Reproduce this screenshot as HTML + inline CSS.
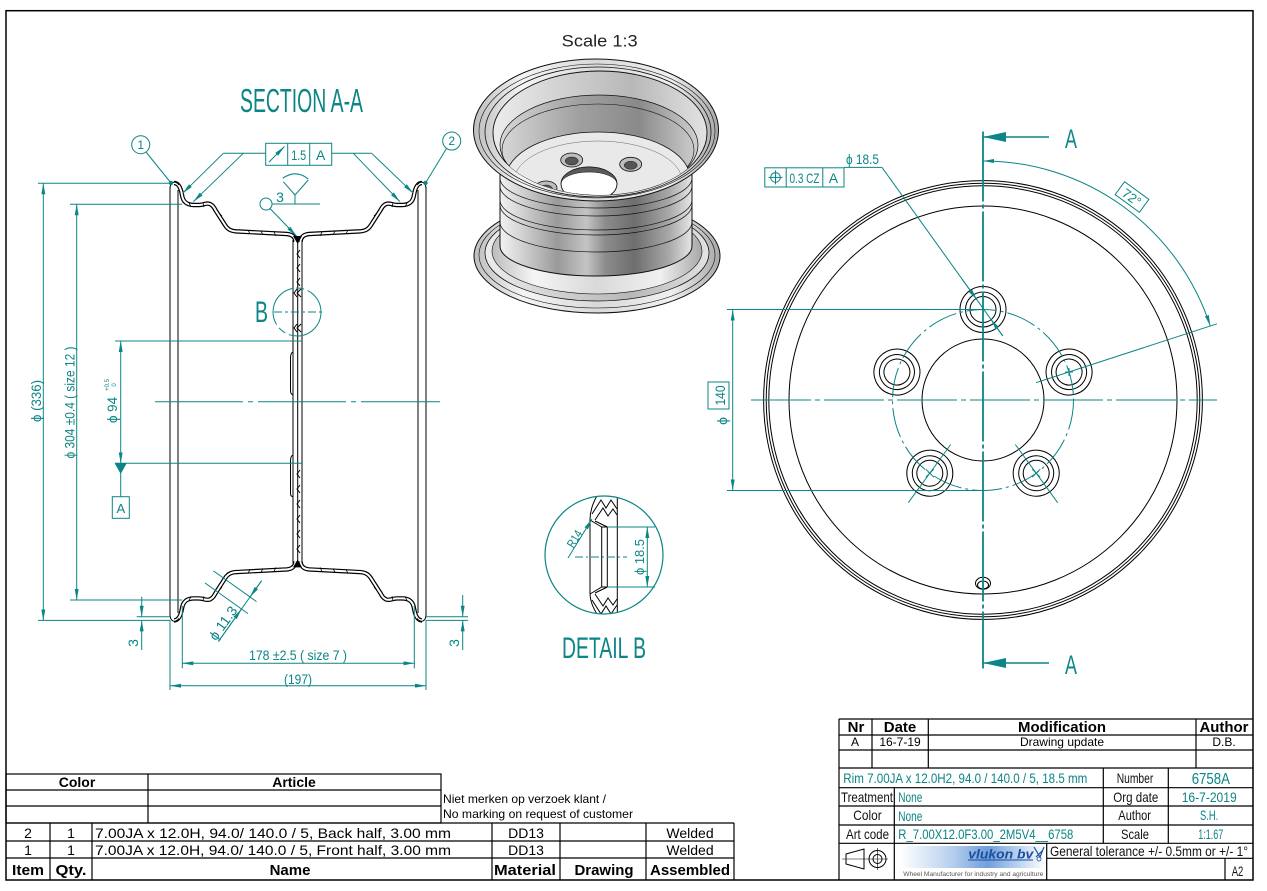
<!DOCTYPE html>
<html><head><meta charset="utf-8"><style>
html,body{margin:0;padding:0;background:#fff;}
svg{display:block;}
</style></head><body>
<svg width="1267" height="891" viewBox="0 0 1267 891" xmlns="http://www.w3.org/2000/svg" xmlns:xlink="http://www.w3.org/1999/xlink" font-family="'Liberation Sans Narrow','Liberation Sans',sans-serif">
<defs>
<marker id="a" viewBox="0 0 11 4" refX="11" refY="2" markerWidth="11" markerHeight="4" markerUnits="userSpaceOnUse" orient="auto-start-reverse"><path d="M0,0L11,2L0,4z" fill="#0b8585"/></marker>
<linearGradient id="gb" x1="0" x2="1"><stop offset="0" stop-color="#f2f2f2"/><stop offset=".1" stop-color="#d6d6d6"/><stop offset=".3" stop-color="#9a9a9a"/><stop offset=".45" stop-color="#c4c4c4"/><stop offset=".55" stop-color="#8c8c8c"/><stop offset=".7" stop-color="#6e6e6e"/><stop offset=".88" stop-color="#a8a8a8"/><stop offset="1" stop-color="#e6e6e6"/></linearGradient>
<linearGradient id="gf" x1="0" x2="1"><stop offset="0" stop-color="#bdbdbd"/><stop offset=".2" stop-color="#f5f5f5"/><stop offset=".5" stop-color="#d9d9d9"/><stop offset=".8" stop-color="#f0f0f0"/><stop offset="1" stop-color="#a8a8a8"/></linearGradient>
<linearGradient id="gi" x1="0" x2="1"><stop offset="0" stop-color="#ececec"/><stop offset=".35" stop-color="#cfcfcf"/><stop offset=".65" stop-color="#b8b8b8"/><stop offset="1" stop-color="#e2e2e2"/></linearGradient>
<linearGradient id="gw" x1="0" x2="1"><stop offset="0" stop-color="#d8d8d8"/><stop offset=".4" stop-color="#a0a0a0"/><stop offset=".7" stop-color="#8a8a8a"/><stop offset="1" stop-color="#cfcfcf"/></linearGradient>
<linearGradient id="gl" x1="0" x2="1"><stop offset="0" stop-color="#ffffff"/><stop offset=".35" stop-color="#9fc0e8"/><stop offset=".6" stop-color="#3f7fcf"/><stop offset="1" stop-color="#ffffff"/></linearGradient>
<clipPath id="cin"><ellipse cx="600" cy="133" rx="107" ry="62"/></clipPath>
<clipPath id="cdb"><circle cx="604" cy="555" r="59"/></clipPath>
<g id="q">
 <path d="M174,183 C179,183 181,189 182,195 C183,202 187,205 194,205 L199,205 C204,205 206,202.5 210,204 C213,205.5 214,207.5 216,211 L225,225 C228,230 232,231.5 239,231.5 L287,234 C292,234.5 295.4,237 295.4,242" fill="none" stroke="#000" stroke-width="4.4"/>
 <path d="M174,183 C179,183 181,189 182,195 C183,202 187,205 194,205 L199,205 C204,205 206,202.5 210,204 C213,205.5 214,207.5 216,211 L225,225 C228,230 232,231.5 239,231.5 L287,234 C292,234.5 295.4,237 295.4,242" fill="none" stroke="#fff" stroke-width="2"/>
 <path d="M170,189 C170,182 175,180 179,185" fill="none" stroke="#000" stroke-width="1"/>
 <path d="M189,203 l2,4 M248,230 l2,4 M261,231 l2,4 M274,232 l2,4 M219,213 l3,3 M203,203 l1,4" stroke="#000" stroke-width=".8"/>
</g>
</defs>

<!-- frame -->
<rect x="6" y="10.7" width="1247" height="869.3" fill="none" stroke="#000" stroke-width="1.5"/>

<!-- ===== SECTION A-A ===== -->
<text x="240" y="112" font-size="33" fill="#0b8585" textLength="123" lengthAdjust="spacingAndGlyphs">SECTION A-A</text>

<g>
<use xlink:href="#q"/>
<use xlink:href="#q" transform="translate(596,0) scale(-1,1)"/>
<use xlink:href="#q" transform="translate(0,803.4) scale(1,-1)"/>
<use xlink:href="#q" transform="translate(596,803.4) scale(-1,-1)"/>
</g>
<g stroke="#000" stroke-width="1" fill="none">
<line x1="170" y1="187" x2="170" y2="616"/>
<line x1="178" y1="190" x2="178" y2="613"/>
<line x1="426" y1="187" x2="426" y2="616"/>
<line x1="418" y1="190" x2="418" y2="613"/>
<line x1="293" y1="240" x2="293" y2="563.4"/>
<line x1="297.7" y1="243" x2="297.7" y2="560.4"/>
<line x1="302" y1="240" x2="302" y2="563.4"/>
<path d="M293,352 C290.5,353 290.5,356 290.5,358 L290.5,389 C290.5,392 290.5,394 293,395"/>
<path d="M293,455 C290.5,456 290.5,459 290.5,461 L290.5,492 C290.5,495 290.5,496 293,497"/>
<path d="M301,289 l-4,4 l4,4 M297,289 l-3,4 l3,4 M301,324 l-4,4 l4,4 M297,324 l-3,4 l3,4"/>
<path d="M300,250 l-3,4 l3,4 M300,264 l-3,4 l3,4 M300,278 l-3,4 l3,4"/>
<path d="M300,470 l-3,4 l3,4 M300,485 l-3,4 l3,4 M300,500 l-3,4 l3,4 M300,515 l-3,4 l3,4 M300,530 l-3,4 l3,4 M300,545 l-3,4 l3,4"/>
</g>
<polygon points="293,236 302,236 297.7,244" fill="#000"/>
<polygon points="293,567.4 302,567.4 297.7,559.4" fill="#000"/>

<!-- centre line -->
<line x1="155" y1="401.7" x2="440" y2="401.7" stroke="#0b8585" stroke-width="1" stroke-dasharray="88,5,5,5"/>

<g stroke="#0b8585" stroke-width="1" fill="none">
<line x1="38" y1="183.3" x2="170" y2="183.3"/>
<line x1="38" y1="620.4" x2="170" y2="620.4"/>
<line x1="43.3" y1="183.3" x2="43.3" y2="620.4" marker-start="url(#a)" marker-end="url(#a)"/>
<line x1="70" y1="204.3" x2="182" y2="204.3"/>
<line x1="70" y1="600" x2="182" y2="600"/>
<line x1="76.7" y1="204.3" x2="76.7" y2="600" marker-start="url(#a)" marker-end="url(#a)"/>
<line x1="115" y1="341" x2="302" y2="341"/>
<line x1="115" y1="463.3" x2="302" y2="463.3"/>
<line x1="120.7" y1="341" x2="120.7" y2="463.3" marker-start="url(#a)" marker-end="url(#a)"/>
<line x1="120.7" y1="463.3" x2="120.7" y2="496.7"/>
<rect x="112.3" y="496.7" width="17" height="21.6"/>
<line x1="136.7" y1="616.7" x2="170" y2="616.7"/>
<line x1="141.7" y1="596.7" x2="141.7" y2="616.7" marker-end="url(#a)"/>
<line x1="141.7" y1="650" x2="141.7" y2="620.4" marker-end="url(#a)"/>
<line x1="426" y1="616.7" x2="468" y2="616.7"/>
<line x1="426" y1="620.4" x2="468" y2="620.4"/>
<line x1="462.7" y1="595" x2="462.7" y2="616.7" marker-end="url(#a)"/>
<line x1="462.7" y1="650" x2="462.7" y2="620.4" marker-end="url(#a)"/>
<line x1="182.3" y1="606" x2="182.3" y2="668.3"/>
<line x1="414.3" y1="606" x2="414.3" y2="668.3"/>
<line x1="182.3" y1="663.3" x2="414.3" y2="663.3" marker-start="url(#a)" marker-end="url(#a)"/>
<line x1="170" y1="620.4" x2="170" y2="690"/>
<line x1="426" y1="620.4" x2="426" y2="690"/>
<line x1="170" y1="685.7" x2="426" y2="685.7" marker-start="url(#a)" marker-end="url(#a)"/>
<line x1="213.4" y1="570.9" x2="256.5" y2="601.6"/>
<line x1="204.9" y1="582.9" x2="248" y2="613.6"/>
<line x1="261.6" y1="580.7" x2="218.3" y2="641.6"/>
<line x1="261.6" y1="580.7" x2="250" y2="597" marker-end="url(#a)"/>
<line x1="218.3" y1="641.6" x2="241.5" y2="609" marker-end="url(#a)"/>
<circle cx="140.7" cy="144.7" r="9"/>
<line x1="146" y1="152" x2="171" y2="183"/>
<circle cx="451.7" cy="141" r="9"/>
<line x1="446.5" y1="148.5" x2="425.5" y2="183"/>
<rect x="265.7" y="143.3" width="66" height="22"/>
<line x1="287.7" y1="143.3" x2="287.7" y2="165.3"/>
<line x1="309.7" y1="143.3" x2="309.7" y2="165.3"/>
<line x1="269" y1="162" x2="284.5" y2="146.5" marker-end="url(#a)"/>
<line x1="223.3" y1="153.3" x2="265.7" y2="153.3"/>
<line x1="223.3" y1="153.3" x2="182.7" y2="193.3" marker-end="url(#a)"/>
<line x1="243.3" y1="153.3" x2="193.3" y2="201.7" marker-end="url(#a)"/>
<line x1="331.7" y1="153.3" x2="371.7" y2="153.3"/>
<line x1="353.3" y1="153.3" x2="400" y2="201.7" marker-end="url(#a)"/>
<line x1="371.7" y1="153.3" x2="413.3" y2="193.3" marker-end="url(#a)"/>
<line x1="272" y1="204" x2="320" y2="204"/>
<circle cx="266" cy="204" r="6"/>
<line x1="270" y1="208.5" x2="296.5" y2="236" marker-end="url(#a)"/>
<path d="M295,204 L295,195 L283.3,181.7 M295,195 L308.3,180"/>
<path d="M282.7,178.3 Q296,169 308.3,179"/>
<circle cx="297" cy="312" r="24" stroke-dasharray="46,4,8,4"/>
<line x1="274" y1="312" x2="322" y2="312" stroke-dasharray="8,3,3,3"/>
</g>
<circle cx="171" cy="183" r="2.2" fill="#0b8585"/>
<circle cx="425.5" cy="183" r="2.2" fill="#0b8585"/>
<polygon points="114.7,463.3 126.7,463.3 120.7,474" fill="#0b8585"/>

<g fill="#0b8585">
<text x="140.7" y="149" font-size="12" text-anchor="middle">1</text>
<text x="451.7" y="145" font-size="12" text-anchor="middle">2</text>
<text x="298.7" y="160" font-size="14" text-anchor="middle" textLength="15" lengthAdjust="spacingAndGlyphs">1.5</text>
<text x="320.7" y="160" font-size="14" text-anchor="middle">A</text>
<text x="280" y="202" font-size="14" text-anchor="middle">3</text>
<text x="120.8" y="513" font-size="13" text-anchor="middle">A</text>
<text x="255" y="322" font-size="30" textLength="13" lengthAdjust="spacingAndGlyphs">B</text>
<text transform="translate(41,401) rotate(-90)" font-size="14" text-anchor="middle" textLength="42" lengthAdjust="spacingAndGlyphs">ϕ (336)</text>
<text transform="translate(74.5,402.5) rotate(-90)" font-size="14" text-anchor="middle" textLength="112" lengthAdjust="spacingAndGlyphs">ϕ 304  ±0.4 ( size 12 )</text>
<text transform="translate(117,410) rotate(-90)" font-size="14" text-anchor="middle" textLength="26" lengthAdjust="spacingAndGlyphs">ϕ 94</text>
<text transform="translate(109,385) rotate(-90)" font-size="6" text-anchor="middle">+0.5</text>
<text transform="translate(116,385) rotate(-90)" font-size="6" text-anchor="middle">0</text>
<text transform="translate(138,643) rotate(-90)" font-size="14" text-anchor="middle">3</text>
<text transform="translate(459,643) rotate(-90)" font-size="14" text-anchor="middle">3</text>
<text x="298" y="660" font-size="14" text-anchor="middle" textLength="98" lengthAdjust="spacingAndGlyphs">178  ±2.5  ( size 7 )</text>
<text x="298" y="684" font-size="14" text-anchor="middle" textLength="28" lengthAdjust="spacingAndGlyphs">(197)</text>
<text transform="translate(227,626) rotate(-54.5)" font-size="14" text-anchor="middle" textLength="38" lengthAdjust="spacingAndGlyphs">ϕ 11.3</text>
</g>

<!-- ===== 3D VIEW ===== -->
<text x="561.7" y="46.7" font-family="'Liberation Sans',sans-serif" font-size="17" fill="#222" textLength="76" lengthAdjust="spacingAndGlyphs">Scale 1:3</text>
<g stroke="#111">
<ellipse cx="597" cy="256" rx="123" ry="57" fill="url(#gf)" stroke-width="1"/>
<ellipse cx="597" cy="255" rx="118" ry="53" fill="none" stroke-width=".6"/>
<ellipse cx="597" cy="253" rx="112" ry="48" fill="url(#gi)" stroke-width=".8"/>
<ellipse cx="597" cy="251" rx="105" ry="43" fill="url(#gf)" stroke-width=".6"/>
<path d="M500,150 L500,246 A96,30 0 0 0 692,246 L692,150 Z" fill="url(#gb)" stroke-width="1"/>
<g fill="none" stroke-width=".7">
<path d="M500,178 A96,30 0 0 0 692,178"/>
<path d="M500,186 A96,30 0 0 0 692,186"/>
<path d="M500,200 A96,30 0 0 0 692,200"/>
<path d="M500,205 A96,30 0 0 0 692,205"/>
<path d="M500,222 A96,30 0 0 0 692,222"/>
</g>
<ellipse cx="596" cy="130" rx="122.5" ry="71" fill="url(#gf)" stroke-width="1"/>
<ellipse cx="597" cy="131" rx="118" ry="67" fill="none" stroke-width=".6"/>
<ellipse cx="598" cy="132" rx="113" ry="65" fill="none" stroke-width=".8"/>
<ellipse cx="600" cy="133" rx="107" ry="62" fill="url(#gi)" stroke-width=".9"/>
<g clip-path="url(#cin)">
<ellipse cx="599" cy="145" rx="99" ry="50" fill="url(#gw)" stroke-width=".7"/>
<ellipse cx="598" cy="150" rx="96" ry="46" fill="none" stroke-width=".6"/>
<ellipse cx="598" cy="178" rx="92" ry="46" fill="#e9e9e9" stroke-width=".8"/>
<ellipse cx="598" cy="181" rx="84" ry="40" fill="none" stroke="#666" stroke-width=".5"/>
<ellipse cx="571.7" cy="160" rx="11" ry="7" fill="#bdbdbd" stroke-width=".8"/>
<ellipse cx="571.7" cy="161" rx="6.5" ry="4" fill="#555" stroke-width=".5"/>
<ellipse cx="630.7" cy="164.3" rx="11" ry="7" fill="#bdbdbd" stroke-width=".8"/>
<ellipse cx="630.7" cy="165.3" rx="6.5" ry="4" fill="#555" stroke-width=".5"/>
<ellipse cx="546" cy="188" rx="11" ry="7" fill="#bdbdbd" stroke-width=".8"/>
<ellipse cx="546" cy="189" rx="6.5" ry="4" fill="#555" stroke-width=".5"/>
<ellipse cx="589" cy="184" rx="28" ry="17" fill="#fff" stroke-width=".9"/>
<path d="M561,184 A28,17 0 0 1 617,184 A28,12 0 0 0 561,184Z" fill="#5a5a5a" stroke-width=".5"/>
</g>
</g>

<!-- ===== RIGHT VIEW ===== -->
<g fill="none" stroke="#000" stroke-width="1">
<circle cx="983" cy="400" r="219.4"/>
<circle cx="983" cy="400" r="216.8"/>
<circle cx="983" cy="400" r="214.2"/>
<circle cx="983" cy="400" r="194"/>
<circle cx="983" cy="400" r="61"/>
<g id="h"><circle cx="983" cy="309.5" r="23"/><circle cx="983" cy="309.5" r="17.5"/><circle cx="983" cy="309.5" r="13"/></g>
<use xlink:href="#h" transform="rotate(72 983 400)"/>
<use xlink:href="#h" transform="rotate(144 983 400)"/>
<use xlink:href="#h" transform="rotate(216 983 400)"/>
<use xlink:href="#h" transform="rotate(288 983 400)"/>
<ellipse cx="983" cy="583.3" rx="7.5" ry="6"/>
<ellipse cx="983" cy="585" rx="5.5" ry="4"/>
</g>
<g fill="none" stroke="#0b8585" stroke-width="1">
<circle cx="983" cy="400" r="90.5" stroke-dasharray="30,4,3,4"/>
<line x1="751" y1="400" x2="1217" y2="400" stroke-dasharray="60,4,5,4"/>
<line x1="983" y1="131.5" x2="983" y2="668.5" stroke-width="1.8" stroke-dasharray="70,3,4,3"/>
<line x1="983" y1="137" x2="1049" y2="137" stroke-width="1.5"/>
<line x1="983" y1="663" x2="1049" y2="663" stroke-width="1.5"/>
<line x1="727" y1="309.5" x2="983" y2="309.5"/>
<line x1="727" y1="490.5" x2="983" y2="490.5"/>
<line x1="732.7" y1="309.5" x2="732.7" y2="490.5" marker-start="url(#a)" marker-end="url(#a)"/>
<rect x="708" y="382" width="21" height="27"/>
<rect x="764.8" y="167.8" width="79.2" height="19.2"/>
<line x1="786.2" y1="167.8" x2="786.2" y2="187"/>
<line x1="822.8" y1="167.8" x2="822.8" y2="187"/>
<circle cx="775.5" cy="177.4" r="4.8"/>
<line x1="768.5" y1="177.4" x2="782.5" y2="177.4"/>
<line x1="775.5" y1="170.4" x2="775.5" y2="184.4"/>
<line x1="844" y1="167.4" x2="882" y2="167.4"/>
<line x1="882" y1="167.4" x2="1002.8" y2="335.9"/>
<line x1="962" y1="279" x2="976.9" y2="299.7" marker-end="url(#a)"/>
<line x1="1002.8" y1="335.9" x2="990.9" y2="319.3" marker-end="url(#a)"/>
<path d="M983,161 A239,239 0 0 1 1210.3,326.1" marker-start="url(#a)" marker-end="url(#a)"/>
<line x1="1036" y1="382.7" x2="1217" y2="323.8"/>
<g transform="translate(1132,197) rotate(36)"><rect x="-15" y="-8" width="30" height="16"/></g>
<line x1="950.7" y1="444.5" x2="908.3" y2="502.7"/>
<line x1="1015.3" y1="444.5" x2="1057.7" y2="502.7"/>
<path d="M925.8,469.2 l8,8 M925.8,477.2 l8,-8 M1032.2,469.2 l8,8 M1032.2,477.2 l8,-8 M1065,372 h8 M1069,368 v8"/>
</g>
<polygon points="983,137 1006,132 1006,142" fill="#0b8585"/>
<polygon points="983,663 1006,658 1006,668" fill="#0b8585"/>
<g fill="#0b8585">
<text x="1065" y="148" font-size="27" textLength="12" lengthAdjust="spacingAndGlyphs">A</text>
<text x="1065" y="674" font-size="27" textLength="12" lengthAdjust="spacingAndGlyphs">A</text>
<text x="846" y="164" font-size="14" textLength="33" lengthAdjust="spacingAndGlyphs">ϕ 18.5</text>
<text x="804.5" y="183" font-size="14" text-anchor="middle" textLength="30" lengthAdjust="spacingAndGlyphs">0.3 CZ</text>
<text x="833.4" y="183" font-size="14" text-anchor="middle">A</text>
<text transform="translate(725,395.5) rotate(-90)" font-size="14" text-anchor="middle" textLength="20" lengthAdjust="spacingAndGlyphs">140</text>
<text transform="translate(727,421) rotate(-90)" font-size="14" text-anchor="middle">ϕ</text>
<text transform="translate(1132,197) rotate(36)" y="5" font-size="13" text-anchor="middle" textLength="20" lengthAdjust="spacingAndGlyphs">72°</text>
</g>

<!-- ===== DETAIL B ===== -->
<g clip-path="url(#cdb)" fill="none" stroke="#000" stroke-width="1">
<path d="M598,494 C592,504 590,512 590,520 L590,592 C590,600 592,606 598,616"/>
<line x1="601.7" y1="527" x2="601.7" y2="587"/>
<line x1="607.3" y1="527" x2="607.3" y2="587"/>
<line x1="617.3" y1="495" x2="617.3" y2="615"/>
<line x1="601.7" y1="527" x2="617.3" y2="527"/>
<line x1="601.7" y1="587" x2="617.3" y2="587"/>
<path d="M592,514 L601,500 L606,508 L611,500 L617,509"/>
<path d="M595,520 L603,508 L608,516 L613,509 L617,515"/>
<path d="M590,520 L601.7,527 M595,521 L607.3,527"/>
<path d="M592,600 L601,614 L606,606 L611,614 L617,605"/>
<path d="M595,594 L603,606 L608,598 L613,605 L617,599"/>
<path d="M590,594 L601.7,587 M595,593 L607.3,587"/>
</g>
<g fill="none" stroke="#0b8585" stroke-width="1">
<circle cx="604" cy="555" r="59" stroke-width="1.2"/>
<line x1="607.3" y1="527" x2="655" y2="527"/>
<line x1="607.3" y1="587" x2="655" y2="587"/>
<line x1="647.3" y1="527" x2="647.3" y2="587" marker-start="url(#a)" marker-end="url(#a)"/>
<line x1="575" y1="557" x2="627" y2="557" stroke-dasharray="8,3,2,3"/>
<line x1="568" y1="558" x2="592" y2="519" marker-end="url(#a)"/>
</g>
<g fill="#0b8585">
<text transform="translate(644,557) rotate(-90)" font-size="13" text-anchor="middle" textLength="36" lengthAdjust="spacingAndGlyphs">ϕ 18.5</text>
<text transform="translate(578,541) rotate(-58)" font-size="12" text-anchor="middle" textLength="18" lengthAdjust="spacingAndGlyphs">R14</text>
<text x="562" y="658" font-size="30" textLength="84" lengthAdjust="spacingAndGlyphs">DETAIL B</text>
</g>

<!-- ===== BOTTOM LEFT TABLES ===== -->
<g stroke="#000" stroke-width="1.2" fill="none">
<rect x="6" y="774" width="435" height="49"/>
<line x1="6" y1="790" x2="441" y2="790"/>
<line x1="6" y1="806" x2="441" y2="806"/>
<line x1="148" y1="774" x2="148" y2="823"/>
<line x1="6" y1="823" x2="734" y2="823"/>
<line x1="6" y1="841" x2="734" y2="841"/>
<line x1="6" y1="858" x2="734" y2="858"/>
<line x1="734" y1="823" x2="734" y2="880"/>
<line x1="50" y1="823" x2="50" y2="880"/>
<line x1="92" y1="823" x2="92" y2="880"/>
<line x1="492" y1="823" x2="492" y2="880"/>
<line x1="560" y1="823" x2="560" y2="880"/>
<line x1="646" y1="823" x2="646" y2="880"/>
</g>
<g font-family="'Liberation Sans',sans-serif" fill="#000">
<text x="77" y="787" font-size="14" font-weight="bold" text-anchor="middle">Color</text>
<text x="294" y="787" font-size="14" font-weight="bold" text-anchor="middle">Article</text>
<text x="443" y="803" font-size="12" textLength="163" lengthAdjust="spacingAndGlyphs">Niet merken op verzoek klant /</text>
<text x="443" y="818" font-size="12" textLength="190" lengthAdjust="spacingAndGlyphs">No marking on request of customer</text>
<text x="28" y="838" font-size="14" text-anchor="middle">2</text>
<text x="71" y="838" font-size="14" text-anchor="middle">1</text>
<text x="95" y="838" font-size="14" textLength="356" lengthAdjust="spacingAndGlyphs">7.00JA x 12.0H,  94.0/ 140.0 / 5, Back half, 3.00 mm</text>
<text x="526" y="838" font-size="14" text-anchor="middle">DD13</text>
<text x="690" y="838" font-size="14" text-anchor="middle">Welded</text>
<text x="28" y="855" font-size="14" text-anchor="middle">1</text>
<text x="71" y="855" font-size="14" text-anchor="middle">1</text>
<text x="95" y="855" font-size="14" textLength="356" lengthAdjust="spacingAndGlyphs">7.00JA x 12.0H,  94.0/ 140.0 / 5, Front half, 3.00 mm</text>
<text x="526" y="855" font-size="14" text-anchor="middle">DD13</text>
<text x="690" y="855" font-size="14" text-anchor="middle">Welded</text>
<text x="28" y="875" font-size="15" font-weight="bold" text-anchor="middle" textLength="32" lengthAdjust="spacingAndGlyphs">Item</text>
<text x="71" y="875" font-size="15" font-weight="bold" text-anchor="middle" textLength="31" lengthAdjust="spacingAndGlyphs">Qty.</text>
<text x="290" y="875" font-size="15" font-weight="bold" text-anchor="middle">Name</text>
<text x="525" y="875" font-size="15" font-weight="bold" text-anchor="middle" textLength="62" lengthAdjust="spacingAndGlyphs">Material</text>
<text x="604" y="875" font-size="15" font-weight="bold" text-anchor="middle" textLength="59" lengthAdjust="spacingAndGlyphs">Drawing</text>
<text x="690" y="875" font-size="15" font-weight="bold" text-anchor="middle" textLength="80" lengthAdjust="spacingAndGlyphs">Assembled</text>
</g>

<!-- ===== TITLE BLOCK ===== -->
<g stroke="#000" stroke-width="1.2" fill="none">
<line x1="839" y1="719" x2="1253" y2="719"/>
<line x1="839" y1="719" x2="839" y2="880"/>
<line x1="839" y1="735" x2="1253" y2="735"/>
<line x1="839" y1="750" x2="1253" y2="750"/>
<line x1="872" y1="719" x2="872" y2="768"/>
<line x1="928.3" y1="719" x2="928.3" y2="768"/>
<line x1="1196" y1="719" x2="1196" y2="768"/>
<line x1="839" y1="768" x2="1253" y2="768"/>
<line x1="839" y1="787.7" x2="1253" y2="787.7"/>
<line x1="839" y1="806" x2="1253" y2="806"/>
<line x1="839" y1="825" x2="1253" y2="825"/>
<line x1="839" y1="843.3" x2="1253" y2="843.3"/>
<line x1="894.3" y1="787.7" x2="894.3" y2="880"/>
<line x1="1103.3" y1="768" x2="1103.3" y2="843.3"/>
<line x1="1168.3" y1="768" x2="1168.3" y2="843.3"/>
<line x1="1046.7" y1="843.3" x2="1046.7" y2="880"/>
<line x1="1046.7" y1="858.3" x2="1253" y2="858.3"/>
<line x1="1225" y1="858.3" x2="1225" y2="880"/>
</g>
<g font-family="'Liberation Sans',sans-serif" fill="#000">
<text x="856" y="732" font-size="15" font-weight="bold" text-anchor="middle">Nr</text>
<text x="900" y="732" font-size="15" font-weight="bold" text-anchor="middle">Date</text>
<text x="1062" y="732" font-size="15" font-weight="bold" text-anchor="middle" textLength="88" lengthAdjust="spacingAndGlyphs">Modification</text>
<text x="1224" y="732" font-size="15" font-weight="bold" text-anchor="middle" textLength="49" lengthAdjust="spacingAndGlyphs">Author</text>
<text x="855" y="746" font-size="12" text-anchor="middle">A</text>
<text x="900" y="746" font-size="12" text-anchor="middle">16-7-19</text>
<text x="1062" y="746" font-size="12" text-anchor="middle">Drawing update</text>
<text x="1224" y="746" font-size="12" text-anchor="middle">D.B.</text>
</g>
<g font-size="14">
<text x="843.3" y="783" fill="#0b8585" textLength="244" lengthAdjust="spacingAndGlyphs">Rim 7.00JA x 12.0H2,  94.0 / 140.0 / 5,  18.5 mm</text>
<text x="1116.7" y="783" fill="#111" textLength="36.6" lengthAdjust="spacingAndGlyphs">Number</text>
<text x="1191.7" y="784" fill="#0b8585" font-size="16" textLength="38.3" lengthAdjust="spacingAndGlyphs">6758A</text>
<text x="841" y="802" fill="#111" textLength="52" lengthAdjust="spacingAndGlyphs">Treatment</text>
<text x="898.3" y="802" fill="#0b8585" textLength="24" lengthAdjust="spacingAndGlyphs">None</text>
<text x="1113.3" y="802" fill="#111" textLength="45" lengthAdjust="spacingAndGlyphs">Org date</text>
<text x="1181.7" y="802" fill="#0b8585" textLength="55" lengthAdjust="spacingAndGlyphs">16-7-2019</text>
<text x="853.3" y="820" fill="#111" textLength="28.4" lengthAdjust="spacingAndGlyphs">Color</text>
<text x="898.3" y="821" fill="#0b8585" textLength="24" lengthAdjust="spacingAndGlyphs">None</text>
<text x="1118.3" y="820" fill="#111" textLength="32.7" lengthAdjust="spacingAndGlyphs">Author</text>
<text x="1200" y="820" fill="#0b8585" textLength="18.3" lengthAdjust="spacingAndGlyphs">S.H.</text>
<text x="846" y="839" fill="#111" textLength="43" lengthAdjust="spacingAndGlyphs">Art code</text>
<text x="898.3" y="839" fill="#0b8585" textLength="175" lengthAdjust="spacingAndGlyphs">R_7.00X12.0F3.00_2M5V4__6758</text>
<text x="1121" y="839" fill="#111" textLength="28" lengthAdjust="spacingAndGlyphs">Scale</text>
<text x="1198.3" y="839" fill="#0b8585" textLength="25" lengthAdjust="spacingAndGlyphs">1:1.67</text>
<text x="1050" y="856" fill="#111" textLength="198" lengthAdjust="spacingAndGlyphs">General tolerance +/- 0.5mm or +/- 1°</text>
<text x="1231.7" y="876" fill="#111" textLength="11.6" lengthAdjust="spacingAndGlyphs">A2</text>
</g>
<g fill="none" stroke="#000" stroke-width="1">
<path d="M846,854 L864,849 L864,869 L846,864 Z"/>
<line x1="842" y1="859" x2="888" y2="859" stroke-width=".6"/>
<circle cx="877.5" cy="859" r="8.5"/>
<circle cx="877.5" cy="859" r="4.5"/>
<line x1="877.5" y1="848" x2="877.5" y2="870" stroke-width=".6"/>
</g>
<rect x="901" y="846" width="144" height="22" fill="url(#gl)" opacity=".75"/>
<text x="968.3" y="858.3" font-family="'Liberation Sans',sans-serif" font-size="13" font-weight="bold" font-style="italic" fill="#1a4fa0" textLength="65" lengthAdjust="spacingAndGlyphs">vlukon bv</text>
<path d="M1034,847 L1040,857 L1044,847 M1036,857 L1043,850" stroke="#1a4fa0" stroke-width="1.2" fill="none"/>
<circle cx="1039" cy="859" r="2" fill="none" stroke="#1a4fa0" stroke-width=".8"/>
<line x1="968" y1="860" x2="1033" y2="860" stroke="#1a4fa0" stroke-width="1"/>
<text x="903.3" y="876" font-family="'Liberation Sans',sans-serif" font-size="6" fill="#555" textLength="140" lengthAdjust="spacingAndGlyphs">Wheel Manufacturer for industry and agriculture</text>
</svg>
</body></html>
